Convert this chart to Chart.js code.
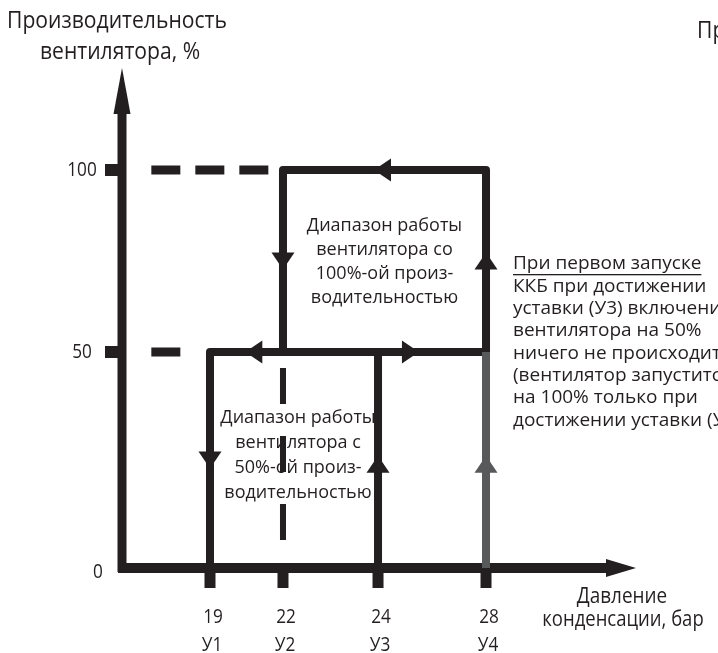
<!DOCTYPE html>
<html lang="ru">
<head>
<meta charset="utf-8">
<title>Производительность вентилятора</title>
<script src="https://cdn.jsdelivr.net/npm/chart.js@4.4.1/dist/chart.umd.min.js"></script>
<style>
  html, body { margin: 0; padding: 0; background: #fff; }
  canvas { display: block; }
</style>
</head>
<body>
<canvas id="chart" width="718" height="653"></canvas>
<script>
// давление конденсации (бар) и уставки
var pressures = [19, 22, 24, 28];
var setpoints = ['У1', 'У2', 'У3', 'У4'];
// производительность вентилятора, %
var levels = [0, 50, 100];

// линии диаграммы (x - давление, y - производительность)
var loop100X = [28, 28, 22, 22];
var loop100Y = [50, 100, 100, 50];
var line50X = [19, 19, 28];
var line50Y = [0, 50, 50];
var riseU3X = [24, 24];
var riseU3Y = [0, 50];
var riseU4X = [28, 28];
var riseU4Y = [0, 50];
var guide100X = [17, 22];
var guide100Y = [100, 100];
var guide50X = [17, 19];
var guide50Y = [50, 50];
var guideU2X = [22, 22];
var guideU2Y = [50, 0];

var dark = '#231f20';
var grey = '#58595b';
var font = '"Open Sans", "DejaVu Sans", sans-serif';

// схема не в масштабе: опорные точки шкал (значение -> доля оси)
var knots = {
    x: [[16, 0], [19, 0.1712], [22, 0.3132], [24, 0.4981], [28, 0.7082], [32, 1]],
    y: [[0, 0], [50, 0.432], [100, 0.796], [130, 1]]
};

function toDecimal(k, v) {
    if (v <= k[0][0]) return k[0][1];
    for (var i = 1; i < k.length; i++) {
        if (v <= k[i][0]) {
            var a = k[i - 1], b = k[i];
            return a[1] + (v - a[0]) / (b[0] - a[0]) * (b[1] - a[1]);
        }
    }
    return k[k.length - 1][1];
}

function fromDecimal(k, d) {
    for (var i = 1; i < k.length; i++) {
        if (d <= k[i][1]) {
            var a = k[i - 1], b = k[i];
            return a[0] + (d - a[1]) / (b[1] - a[1]) * (b[0] - a[0]);
        }
    }
    return k[k.length - 1][0];
}

class SchemeScale extends Chart.LinearScale {
    getPixelForValue(value) {
        return this.getPixelForDecimal(toDecimal(knots[this.id], value));
    }
    getValueForPixel(pixel) {
        return fromDecimal(knots[this.id], this.getDecimalForPixel(pixel));
    }
}
SchemeScale.id = 'scheme';
SchemeScale.defaults = Chart.LinearScale.defaults;
Chart.register(SchemeScale);

function pts(xs, ys) {
    return xs.map(function (x, i) { return { x: x, y: ys[i] }; });
}

function path(xs, ys, color, width, dash, dashOffset) {
    return {
        data: pts(xs, ys),
        borderColor: color,
        borderWidth: width,
        borderDash: dash || [],
        borderDashOffset: dashOffset || 0,
        borderJoinStyle: 'round',
        pointRadius: 0,
        fill: false,
        tension: 0,
        clip: false
    };
}

// стрелки направления: отрезок и доля его длины
var arrows = [
    { from: [28, 50], to: [28, 100], t: 0.5, color: dark },
    { from: [28, 100], to: [22, 100], t: 0.51, color: dark },
    { from: [22, 100], to: [22, 50], t: 0.5, color: dark },
    { from: [22, 50], to: [19, 50], t: 0.4, color: dark },
    { from: [19, 50], to: [19, 0], t: 0.5, color: dark },
    { from: [24, 0], to: [24, 50], t: 0.48, color: dark },
    { from: [24, 50], to: [28, 50], t: 0.3, color: dark },
    { from: [28, 0], to: [28, 50], t: 0.48, color: grey }
];

function triangle(ctx, tipX, tipY, ux, uy, len, half, color) {
    var bx = tipX - ux * len, by = tipY - uy * len;
    ctx.beginPath();
    ctx.moveTo(tipX, tipY);
    ctx.lineTo(bx - uy * half, by + ux * half);
    ctx.lineTo(bx + uy * half, by - ux * half);
    ctx.closePath();
    ctx.fillStyle = color;
    ctx.fill();
}

function label(ctx, str, x, y, size, align, squeeze) {
    ctx.save();
    ctx.font = size + 'px ' + font;
    ctx.fillStyle = dark;
    ctx.textBaseline = 'middle';
    ctx.textAlign = align || 'center';
    ctx.translate(x, y);
    ctx.scale(squeeze || 1, 1);
    ctx.fillText(str, 0, 0);
    ctx.restore();
}

var scheme = {
    id: 'scheme',
    beforeDatasetsDraw: function (chart) {
        var ctx = chart.ctx;
        var xs = chart.scales.x, ys = chart.scales.y;
        var ax = xs.getPixelForValue(xs.min);
        var ay = ys.getPixelForValue(0);
        var top = ys.getPixelForValue(ys.max);
        var right = xs.getPixelForValue(xs.max);

        ctx.save();
        ctx.fillStyle = dark;
        // оси
        ctx.fillRect(ax - 4.5, top + 40, 9, ay - top - 36);
        ctx.fillRect(ax - 4, ay - 5, right - ax - 24, 10);
        triangle(ctx, ax, top, 0, -1, 46, 8.5, dark);
        triangle(ctx, right, ay, 1, 0, 30, 9, dark);

        // деления и подписи оси Y
        levels.forEach(function (v) {
            var y = ys.getPixelForValue(v);
            if (v > 0) {
                ctx.fillStyle = dark;
                ctx.fillRect(ax - 17, y - 6, 17, 12);
                label(ctx, String(v), ax - 40, y, 20, 'center', 0.86);
            } else {
                label(ctx, String(v), ax - 24, y + 4, 20, 'center', 0.86);
            }
        });

        // деления и подписи оси X
        pressures.forEach(function (p, i) {
            var x = xs.getPixelForValue(p);
            ctx.fillStyle = dark;
            ctx.fillRect(x - 5.5, ay, 11, 20);
            label(ctx, String(p), x + 3, ay + 49, 20, 'center', 0.86);
            label(ctx, setpoints[i], x + 2, ay + 77, 20, 'center', 0.86);
        });
        ctx.restore();
    },
    afterDatasetsDraw: function (chart) {
        var ctx = chart.ctx;
        var xs = chart.scales.x, ys = chart.scales.y;

        arrows.forEach(function (a) {
            var x0 = xs.getPixelForValue(a.from[0]), y0 = ys.getPixelForValue(a.from[1]);
            var x1 = xs.getPixelForValue(a.to[0]), y1 = ys.getPixelForValue(a.to[1]);
            var len = Math.hypot(x1 - x0, y1 - y0);
            var ux = (x1 - x0) / len, uy = (y1 - y0) / len;
            var cx = x0 + (x1 - x0) * a.t, cy = y0 + (y1 - y0) * a.t;
            triangle(ctx, cx + ux * 8.5, cy + uy * 8.5, ux, uy, 17, 11.5, a.color);
        });

        // подписи зон
        var c1 = (xs.getPixelForValue(22) + xs.getPixelForValue(28)) / 2;
        var m1 = (ys.getPixelForValue(50) + ys.getPixelForValue(100)) / 2;
        ['Диапазон работы', 'вентилятора со', '100%-ой произ-', 'водительностью'].forEach(function (s, i) {
            label(ctx, s, c1, m1 - 35 + i * 24, 18, 'center', 1);
        });
        var c2 = (xs.getPixelForValue(19) + xs.getPixelForValue(24)) / 2 + 4;
        var m2 = (ys.getPixelForValue(0) + ys.getPixelForValue(50)) / 2;
        ['Диапазон работы', 'вентилятора с', '50%-ой произ-', 'водительностью'].forEach(function (s, i) {
            label(ctx, s, c2, m2 - 42 + i * 25, 18, 'center', 1);
        });

        // пояснение справа
        var note = ['При первом запуске', 'ККБ при достижении', 'уставки (У3) включения',
            'вентилятора на 50%', 'ничего не происходит', '(вентилятор запустится',
            'на 100% только при', 'достижении уставки (У4))'];
        note.forEach(function (s, i) {
            label(ctx, s, 513, 264 + i * 22.3, 19, 'left', 1);
        });
        ctx.save();
        ctx.font = '19px ' + font;
        var w = ctx.measureText(note[0]).width;
        ctx.fillStyle = dark;
        ctx.fillRect(513, 274, w, 1.3);
        ctx.restore();

        // подписи осей
        label(ctx, 'Производительность', 117, 21, 24, 'center', 0.88);
        label(ctx, 'вентилятора, %', 120, 52, 24, 'center', 0.88);
        label(ctx, 'Давление', 622, 597, 22, 'center', 0.86);
        label(ctx, 'конденсации, бар', 623, 620, 22, 'center', 0.84);
        label(ctx, 'При', 697, 31, 24, 'left', 0.88);
    }
};

new Chart(document.getElementById('chart').getContext('2d'), {
    type: 'line',
    data: {
        datasets: [
            path(guide100X, guide100Y, dark, 9, [29, 15]),
            path(guide50X, guide50Y, dark, 9, [29, 40]),
            path(guideU2X, guideU2Y, dark, 6, [36, 32], 52),
            path(riseU4X, riseU4Y, grey, 8),
            path(riseU3X, riseU3Y, dark, 8),
            path(line50X, line50Y, dark, 8),
            path(loop100X, loop100Y, dark, 8)
        ]
    },
    options: {
        responsive: false,
        animation: false,
        events: [],
        layout: { padding: { left: 122, right: 82, top: 68, bottom: 85 } },
        plugins: {
            legend: { display: false },
            tooltip: { enabled: false }
        },
        scales: {
            x: { type: 'scheme', min: 16, max: 32, display: false },
            y: { type: 'scheme', min: 0, max: 130, display: false }
        }
    },
    plugins: [scheme]
});
</script>
</body>
</html>
